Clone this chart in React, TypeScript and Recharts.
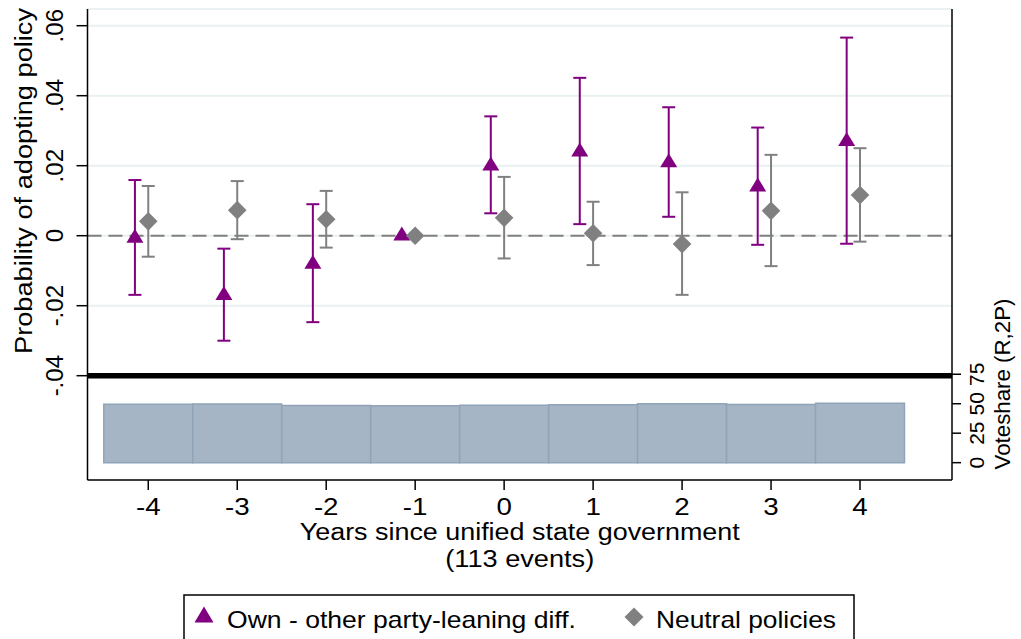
import React from 'react';
import {
  ComposedChart,
  Scatter,
  ErrorBar,
  XAxis,
  YAxis,
  CartesianGrid,
  ReferenceLine,
  ReferenceArea,
  Label,
} from 'recharts';

const years = [-4, -3, -2, -1, 0, 1, 2, 3, 4];

// own - other party-leaning difference (point estimate, 95% CI)
const ownDiff = [-0.0007, -0.017, -0.0081, 0, 0.02, 0.024, 0.0209, 0.014, 0.027];
const ownLow = [-0.0169, -0.03, -0.0247, null, 0.0064, 0.0033, 0.0054, -0.0026, -0.0023];
const ownHigh = [0.0159, -0.0037, 0.009, null, 0.0341, 0.0451, 0.0367, 0.0309, 0.0566];

// neutral policies
const neutral = [0.0041, 0.0073, 0.0047, 0, 0.0051, 0.0007, -0.0024, 0.0071, 0.0116];
const neutralLow = [-0.006, -0.001, -0.0034, null, -0.0065, -0.0084, -0.0169, -0.0087, -0.0017];
const neutralHigh = [0.0142, 0.0156, 0.0128, null, 0.0168, 0.0097, 0.0124, 0.0231, 0.025];

// republican two-party voteshare (bottom panel)
const voteshare = [49.5, 49.8, 48.4, 48.3, 48.8, 49.1, 49.9, 49.3, 50.4];

const probTicks = [-0.04, -0.02, 0, 0.02, 0.04, 0.06];
const voteTicks = [0, 25, 50, 75];

const OWN_SHIFT = -0.15;

const PURPLE = '#800080';
const GREY = '#808080';
const FONT = '"Liberation Sans", Arial, sans-serif';

const fmtProb = (v: number) =>
  v === 0 ? '0' : (v < 0 ? '-' : '') + Math.abs(v).toFixed(2).replace(/^0/, '');

const ciOf = (v: number, lo: number | null, hi: number | null) =>
  lo == null || hi == null ? null : [v - lo, hi - v];

const ownData = years.map((yr, i) => ({
  x: yr + OWN_SHIFT,
  y: ownDiff[i],
  ci: ciOf(ownDiff[i], ownLow[i], ownHigh[i]),
}));

const neutralData = years.map((yr, i) => ({
  x: yr,
  y: neutral[i],
  ci: ciOf(neutral[i], neutralLow[i], neutralHigh[i]),
}));

const Triangle = (p: any) => {
  const { cx, cy } = p;
  return (
    <polygon
      points={`${cx},${cy - 9.3} ${cx - 8.5},${cy + 4.7} ${cx + 8.5},${cy + 4.7}`}
      fill={PURPLE}
    />
  );
};

const Diamond = (p: any) => {
  const { cx, cy } = p;
  const r = 9.3;
  return (
    <polygon
      points={`${cx},${cy - r} ${cx + r},${cy} ${cx},${cy + r} ${cx - r},${cy}`}
      fill={GREY}
    />
  );
};

const LeftTick = ({ x, y, payload }: any) => (
  <text
    transform={`translate(${x - 11.2},${y}) rotate(-90)`}
    textAnchor="middle"
    fontSize={24}
    fontFamily={FONT}
    fill="#000"
  >
    {fmtProb(payload.value)}
  </text>
);

const RightTick = ({ x, y, payload }: any) => (
  <text
    transform={`translate(${x + 20.5},${y}) rotate(-90)`}
    textAnchor="middle"
    fontSize={21}
    fontFamily={FONT}
    fill="#000"
  >
    {payload.value}
  </text>
);

const BottomTick = ({ x, y, payload }: any) => (
  <text
    transform={`translate(${x},${y + 22.5}) scale(1.18,1)`}
    textAnchor="middle"
    fontSize={23.5}
    fontFamily={FONT}
    fill="#000"
  >
    {payload.value}
  </text>
);

export default function App() {
  return (
    <div style={{ position: 'absolute', left: 0, top: 0, width: 1021, height: 639, background: '#fff' }}>
      <ComposedChart width={1021} height={639} margin={{ top: 9, right: 0, bottom: 0, left: 0 }}>
        <CartesianGrid
          xAxisId="x"
          yAxisId="p"
          vertical={false}
          stroke="#e9f1f3"
          strokeWidth={2}
        />
        <XAxis
          xAxisId="x"
          type="number"
          dataKey="x"
          domain={[-4.683, 5.034]}
          allowDataOverflow
          ticks={years}
          height={159}
          tickSize={10}
          tick={<BottomTick />}
          axisLine={{ stroke: '#000', strokeWidth: 1.5 }}
          tickLine={{ stroke: '#000', strokeWidth: 1.5 }}
        >
          <Label
            content={({ viewBox }: any) => {
              const cx = viewBox.x + viewBox.width / 2;
              return (
                <g fontSize={23.5} fontFamily={FONT} fill="#000">
                  <text x={cx} y={540} textAnchor="middle" textLength={440} lengthAdjust="spacingAndGlyphs">
                    Years since unified state government
                  </text>
                  <text x={cx} y={567} textAnchor="middle" textLength={149} lengthAdjust="spacingAndGlyphs">
                    (113 events)
                  </text>
                </g>
              );
            }}
          />
        </XAxis>
        <YAxis
          yAxisId="p"
          type="number"
          dataKey="y"
          domain={[-0.0698, 0.06477]}
          allowDataOverflow
          ticks={probTicks}
          width={87.5}
          tickSize={11}
          tick={<LeftTick />}
          axisLine={{ stroke: '#000', strokeWidth: 1.5 }}
          tickLine={{ stroke: '#000', strokeWidth: 1.5 }}
        >
          <Label
            content={() => (
              <text
                transform="translate(32,181) rotate(-90)"
                textAnchor="middle"
                fontSize={23}
                fontFamily={FONT}
                fill="#000"
                textLength={346}
                lengthAdjust="spacingAndGlyphs"
              >
                Probability of adopting policy
              </text>
            )}
          />
        </YAxis>
        <YAxis
          yAxisId="v"
          orientation="right"
          type="number"
          domain={[-14.7, 384.8]}
          allowDataOverflow
          ticks={voteTicks}
          width={69}
          tickSize={9}
          tick={<RightTick />}
          axisLine={{ stroke: '#000', strokeWidth: 1.5 }}
          tickLine={{ stroke: '#000', strokeWidth: 1.5 }}
        >
          <Label
            content={() => (
              <text
                transform="translate(1010,384) rotate(-90)"
                textAnchor="middle"
                fontSize={22}
                fontFamily={FONT}
                fill="#000"
                textLength={171}
                lengthAdjust="spacingAndGlyphs"
              >
                Voteshare (R,2P)
              </text>
            )}
          />
        </YAxis>

        {years.map((yr, i) => (
          <ReferenceArea
            key={yr}
            xAxisId="x"
            yAxisId="v"
            x1={yr - 0.5}
            x2={yr + 0.5}
            y1={0}
            y2={voteshare[i]}
            fill="#a6b5c5"
            fillOpacity={1}
            stroke="#8fa4b8"
            strokeWidth={1.5}
          />
        ))}

        <ReferenceLine xAxisId="x" yAxisId="p" y={0} stroke={GREY} strokeWidth={2} strokeDasharray="14 7" />
        <ReferenceLine xAxisId="x" yAxisId="p" y={-0.04} stroke="#000" strokeWidth={5.5} />

        <Scatter
          xAxisId="x"
          yAxisId="p"
          data={ownData}
          dataKey="y"
          shape={<Triangle />}
          isAnimationActive={false}
        >
          <ErrorBar dataKey="ci" direction="y" width={6.5} stroke={PURPLE} strokeWidth={2} />
        </Scatter>
        <Scatter
          xAxisId="x"
          yAxisId="p"
          data={neutralData}
          dataKey="y"
          shape={<Diamond />}
          isAnimationActive={false}
        >
          <ErrorBar dataKey="ci" direction="y" width={6.5} stroke={GREY} strokeWidth={2} />
        </Scatter>
      </ComposedChart>

      <svg
        width={1021}
        height={639}
        style={{ position: 'absolute', left: 0, top: 0, pointerEvents: 'none' }}
      >
        <rect x={184} y={595} width={670} height={60} fill="#fff" stroke="#000" strokeWidth={1.5} />
        <polygon points="204,606.5 194.5,622.5 213.5,622.5" fill={PURPLE} />
        <text
          x={227}
          y={628}
          fontSize={24}
          fontFamily={FONT}
          fill="#000"
          textLength={349}
          lengthAdjust="spacingAndGlyphs"
        >
          Own - other party-leaning diff.
        </text>
        <polygon points="634,607.5 643.5,617 634,626.5 624.5,617" fill={GREY} />
        <text
          x={656}
          y={628}
          fontSize={24}
          fontFamily={FONT}
          fill="#000"
          textLength={180}
          lengthAdjust="spacingAndGlyphs"
        >
          Neutral policies
        </text>
      </svg>
    </div>
  );
}
